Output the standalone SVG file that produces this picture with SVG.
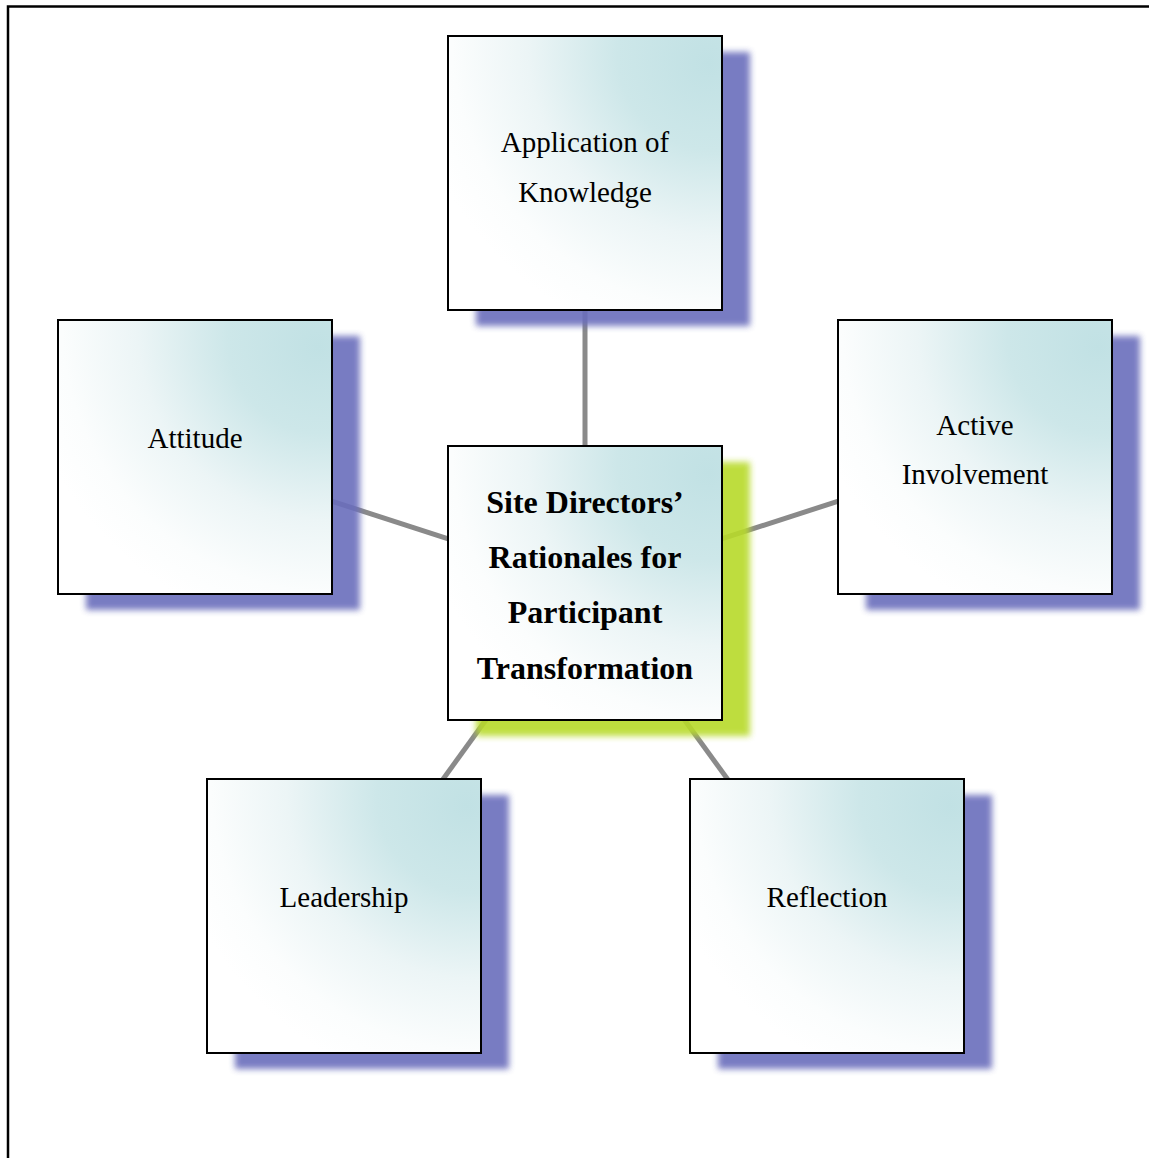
<svg xmlns="http://www.w3.org/2000/svg" width="1149" height="1158" viewBox="0 0 1149 1158">
<defs>
<radialGradient id="fill" cx="1" cy="0" r="1.15" fx="0.95" fy="0.1">
<stop offset="0" stop-color="#c1e1e4"/>
<stop offset="0.3" stop-color="#cde7e9"/>
<stop offset="0.6" stop-color="#ecf5f6"/>
<stop offset="0.85" stop-color="#fbfdfd"/>
<stop offset="1" stop-color="#ffffff"/>
</radialGradient>
<filter id="blur" x="-10%" y="-10%" width="120%" height="120%">
<feGaussianBlur stdDeviation="3"/>
</filter>
<style>
.box{fill:url(#fill);stroke:#000;stroke-width:2}
.sh{fill:#6a6ebc;filter:url(#blur);opacity:0.9}
.shg{fill:#b8da2c;filter:url(#blur);opacity:0.9}
.t{font-family:"Liberation Serif","Times New Roman",serif;font-size:29px;fill:#000;text-anchor:middle}
.tb{font-family:"Liberation Serif","Times New Roman",serif;font-size:32px;font-weight:bold;fill:#000;text-anchor:middle}
.c{stroke:#8a8a8a;stroke-width:5;fill:none}
</style>
</defs>
<rect width="1149" height="1158" fill="#fff"/>
<path d="M8,1158 V6.5 H1149" fill="none" stroke="#000" stroke-width="2.5"/>
<g id="connectors">
<line class="c" x1="585" y1="583" x2="585" y2="173"/>
<line class="c" x1="585" y1="583" x2="195" y2="457"/>
<line class="c" x1="585" y1="583" x2="975" y2="457"/>
<line class="c" x1="585" y1="583" x2="344" y2="916"/>
<line class="c" x1="585" y1="583" x2="827" y2="916"/>
</g>
<g id="shadows">
<rect class="sh" x="476" y="52" width="274" height="274"/>
<rect class="sh" x="86" y="336" width="274" height="274"/>
<rect class="sh" x="866" y="336" width="274" height="274"/>
<rect class="sh" x="235" y="795" width="274" height="274"/>
<rect class="sh" x="718" y="795" width="274" height="274"/>
<rect class="shg" x="476" y="462" width="274" height="274"/>
</g>
<g id="node-application">
<rect class="box" x="448" y="36" width="274" height="274"/>
<text class="t" x="585" y="152">Application of</text>
<text class="t" x="585" y="202">Knowledge</text>
</g>
<g id="node-attitude">
<rect class="box" x="58" y="320" width="274" height="274"/>
<text class="t" x="195" y="448">Attitude</text>
</g>
<g id="node-active">
<rect class="box" x="838" y="320" width="274" height="274"/>
<text class="t" x="975" y="435">Active</text>
<text class="t" x="975" y="484">Involvement</text>
</g>
<g id="node-center">
<rect class="box" x="448" y="446" width="274" height="274"/>
<text class="tb" x="585" y="513">Site Directors’</text>
<text class="tb" x="585" y="568">Rationales for</text>
<text class="tb" x="585" y="623">Participant</text>
<text class="tb" x="585" y="679">Transformation</text>
</g>
<g id="node-leadership">
<rect class="box" x="207" y="779" width="274" height="274"/>
<text class="t" x="344" y="907">Leadership</text>
</g>
<g id="node-reflection">
<rect class="box" x="690" y="779" width="274" height="274"/>
<text class="t" x="827" y="907">Reflection</text>
</g>
</svg>
